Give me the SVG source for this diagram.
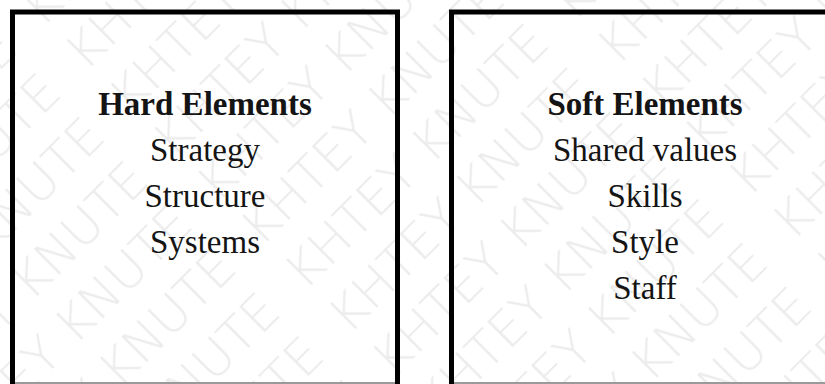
<svg xmlns="http://www.w3.org/2000/svg" width="825" height="384" viewBox="0 0 825 384">
  <style>
    .box { fill: none; stroke: #000; stroke-width: 5; }
    .edge { stroke: #9a9a9a; stroke-width: 2; }
    .title { font-family: "Liberation Serif", "Times New Roman", serif; font-size: 33px; font-weight: bold; fill: #141414; text-anchor: middle; }
    .item { font-family: "Liberation Serif", "Times New Roman", serif; font-size: 33px; fill: #141414; text-anchor: middle; }
    .mark { font-family: "DejaVu Sans", "Liberation Sans", sans-serif; font-size: 50px; font-weight: 200; fill: #ececec; }
  </style>
  <defs>
    <!-- repeating background lettering, tilted -->
    <pattern id="wm" patternUnits="userSpaceOnUse" width="380" height="62" patternTransform="rotate(-45) translate(10 0)">
      <text class="mark" x="0" y="50">KHTEY KNUTE</text>
    </pattern>
  </defs>

  <rect width="825" height="384" fill="#fff"/>
  <rect width="825" height="384" fill="url(#wm)"/>

  <!-- hard elements -->
  <g id="hard">
    <rect class="box" x="12.5" y="12" width="385" height="380"/>
    <line class="edge" x1="15" y1="383" x2="395" y2="383"/>
    <text class="title" x="205" y="115">Hard Elements</text>
    <text class="item" x="205" y="161">Strategy</text>
    <text class="item" x="205" y="207">Structure</text>
    <text class="item" x="205" y="253">Systems</text>
  </g>

  <!-- soft elements -->
  <g id="soft">
    <rect class="box" x="451.5" y="12" width="390" height="380"/>
    <line class="edge" x1="454" y1="383" x2="825" y2="383"/>
    <text class="title" x="645" y="115">Soft Elements</text>
    <text class="item" x="645" y="161">Shared values</text>
    <text class="item" x="645" y="207">Skills</text>
    <text class="item" x="645" y="253">Style</text>
    <text class="item" x="645" y="299">Staff</text>
  </g>

  <g id="connectors"/>
</svg>
